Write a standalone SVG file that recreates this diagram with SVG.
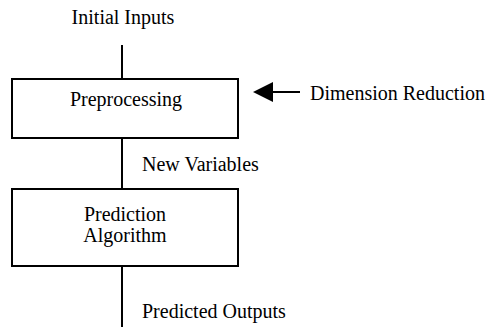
<svg xmlns="http://www.w3.org/2000/svg" width="491" height="327" viewBox="0 0 491 327">
  <style>
    text { font-family: "Liberation Serif", "Times New Roman", serif; font-size: 20px; fill: #000; }
    .box { fill: #fff; stroke: #000; stroke-width: 2; }
    .wire { stroke: #000; stroke-width: 2; fill: none; }
  </style>
  <rect width="491" height="327" fill="#fff"/>

  <g id="connectors">
    <line class="wire" x1="122" y1="45" x2="122" y2="79"/>
    <line class="wire" x1="122" y1="138" x2="122" y2="189"/>
    <line class="wire" x1="122" y1="266" x2="122" y2="327"/>
    <path d="M300,92 L270,92" class="wire"/>
    <path d="M253,92 L273,82 L273,102 Z" fill="#000"/>
  </g>

  <g id="initial-inputs">
    <text x="123" y="24" text-anchor="middle">Initial Inputs</text>
  </g>

  <g id="preprocessing">
    <rect class="box" x="12" y="79" width="226" height="59"/>
    <text x="126" y="106" text-anchor="middle">Preprocessing</text>
  </g>

  <g id="dimension-reduction">
    <text x="310" y="100">Dimension Reduction</text>
  </g>

  <g id="new-variables">
    <text x="142" y="171">New Variables</text>
  </g>

  <g id="prediction-algorithm">
    <rect class="box" x="12" y="189" width="226" height="77"/>
    <text x="125" y="221" text-anchor="middle">Prediction</text>
    <text x="125" y="242" text-anchor="middle">Algorithm</text>
  </g>

  <g id="predicted-outputs">
    <text x="142" y="318">Predicted Outputs</text>
  </g>
</svg>
